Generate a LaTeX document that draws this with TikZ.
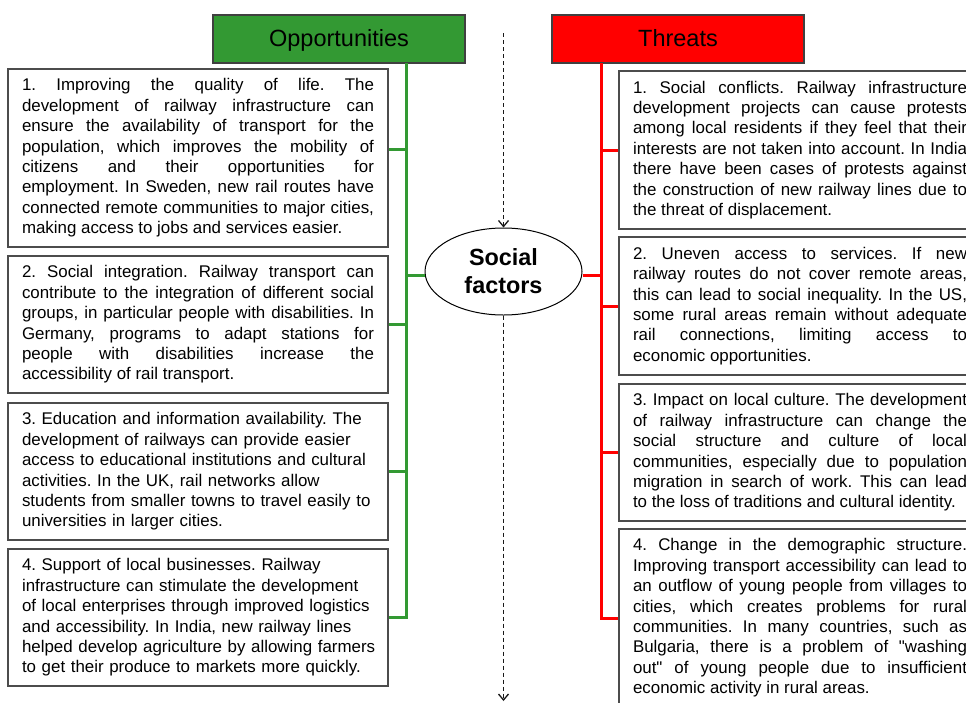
\documentclass[tikz,border=0pt]{standalone}
\usepackage{fontspec}
\setmainfont{Liberation Sans}[Ligatures=TeXOff]
\usetikzlibrary{shapes.geometric,arrows.meta}
\definecolor{oppgreen}{RGB}{51,153,51}
\definecolor{threatred}{RGB}{255,0,0}
\newcommand{\boxfont}{\fontsize{16.9}{20.4}\selectfont\frenchspacing\tolerance=10000\hyphenpenalty=10000\relax}
\begin{document}
\begin{tikzpicture}[
    x=1pt, y=-1pt,
    every node/.style={align=center},
    head box/.style={draw=black!75, line width=1.5pt, minimum width=252, minimum height=48, inner sep=0pt, text depth=3pt, font=\fontsize{23.5}{28}\selectfont},
    factor box/.style={draw=black!70, line width=1.5pt, inner xsep=14pt, inner ysep=0pt, font=\boxfont, align=justify},
    left box/.style={factor box, text width=352pt},
    right box/.style={factor box, text width=334pt},
    social node/.style={draw, ellipse, line width=1pt, minimum width=157, minimum height=87, inner sep=0pt, font=\fontsize{23.4}{28}\selectfont\bfseries},
    opp line/.style={draw=oppgreen, line width=3pt},
    threat line/.style={draw=threatred, line width=3pt},
    flow arrow/.style={draw=black!90, line width=1.3pt, dash pattern=on 4pt off 3pt, -{Straight Barb[length=6pt, width=10pt]}},
    ]
\useasboundingbox (0,0) rectangle (966,702);
\clip (0,0) rectangle (966,702);
\node[head box, fill=oppgreen] (Opp) at (339,39) {Opportunities};
\node[head box, fill=threatred] (Threat) at (678,39) {Threats};
\node[social node] (Social) at (503.5,271.5) {Social\\factors};
\node[left box, minimum height=178] (Opp1) at (198,158) {1. Improving the quality of life. The\linebreak development of railway infrastructure can\linebreak ensure the availability of transport for the\linebreak population, which improves the mobility of\linebreak citizens and their opportunities for\linebreak employment. In Sweden, new rail routes have\linebreak connected remote communities to major cities,\linebreak making access to jobs and services easier.};
\node[left box, minimum height=137] (Opp2) at (198,324.5) {2. Social integration. Railway transport can\linebreak contribute to the integration of different social\linebreak groups, in particular people with disabilities. In\linebreak Germany, programs to adapt stations for\linebreak people with disabilities increase the\linebreak accessibility of rail transport.};
\node[left box, align=left, minimum height=137] (Opp3) at (198,471.5) {3. Education and information availability. The\\development of railways can provide easier\\access to educational institutions and cultural\\activities. In the UK, rail networks allow\\students from smaller towns to travel easily to\\universities in larger cities.};
\node[left box, align=left, minimum height=137] (Opp4) at (198,617.5) {4. Support of local businesses. Railway\\infrastructure can stimulate the development\\of local enterprises through improved logistics\\and accessibility. In India, new railway lines\\\mbox{helped develop agriculture by allowing farmers}\\to get their produce to markets more quickly.};
\node[right box, minimum height=158] (Threat1) at (800,150) {1. Social conflicts. Railway infrastructure\linebreak development projects can cause protests\linebreak among local residents if they feel that their\linebreak interests are not taken into account. In India\linebreak there have been cases of protests against\linebreak the construction of new railway lines due to\linebreak the threat of displacement.};
\node[right box, minimum height=138] (Threat2) at (800,306) {2. Uneven access to services. If new\linebreak railway routes do not cover remote areas,\linebreak this can lead to social inequality. In the US,\linebreak some rural areas remain without adequate\linebreak rail connections, limiting access to\linebreak economic opportunities.};
\node[right box, minimum height=137] (Threat3) at (800,452.5) {3. Impact on local culture. The development\linebreak of railway infrastructure can change the\linebreak social structure and culture of local\linebreak communities, especially due to population\linebreak migration in search of work. This can lead\linebreak to the loss of traditions and cultural identity.};
\node[right box, minimum height=178] (Threat4) at (800,618) {4. Change in the demographic structure.\linebreak Improving transport accessibility can lead to\linebreak an outflow of young people from villages to\linebreak cities, which creates problems for rural\linebreak communities. In many countries, such as\linebreak Bulgaria, there is a problem of "washing\linebreak out" of young people due to insufficient\linebreak economic activity in rural areas.};
\coordinate (OppTop) at (406,63);
\coordinate (ThreatTop) at (601,63);
\coordinate (FlowIn) at (503.5,33);
\coordinate (FlowOut) at (503.5,701);
\draw[opp line] (OppTop) |- (Opp4.east);
\draw[opp line] ([yshift=9pt]Opp1.east) -- ([yshift=9pt]Opp1.east -| OppTop);
\draw[opp line] (Opp2.east) -- (Opp2.east -| OppTop);
\draw[opp line] (Opp3.east) -- (Opp3.east -| OppTop);
\draw[opp line] ([yshift=-4pt]Social.west) -- ([yshift=-4pt]Social.west -| OppTop);
\draw[threat line] (ThreatTop) |- (Threat4.west);
\draw[threat line] (Threat1.west) -- (Threat1.west -| ThreatTop);
\draw[threat line] (Threat2.west) -- (Threat2.west -| ThreatTop);
\draw[threat line] (Threat3.west) -- (Threat3.west -| ThreatTop);
\draw[threat line] ([yshift=-3.5pt]Social.east) -- ([yshift=-3.5pt]Social.east -| ThreatTop);
\draw[flow arrow] (FlowIn) -- (Social.north);
\draw[flow arrow] (Social.south) -- (FlowOut);
\end{tikzpicture}
\end{document}
